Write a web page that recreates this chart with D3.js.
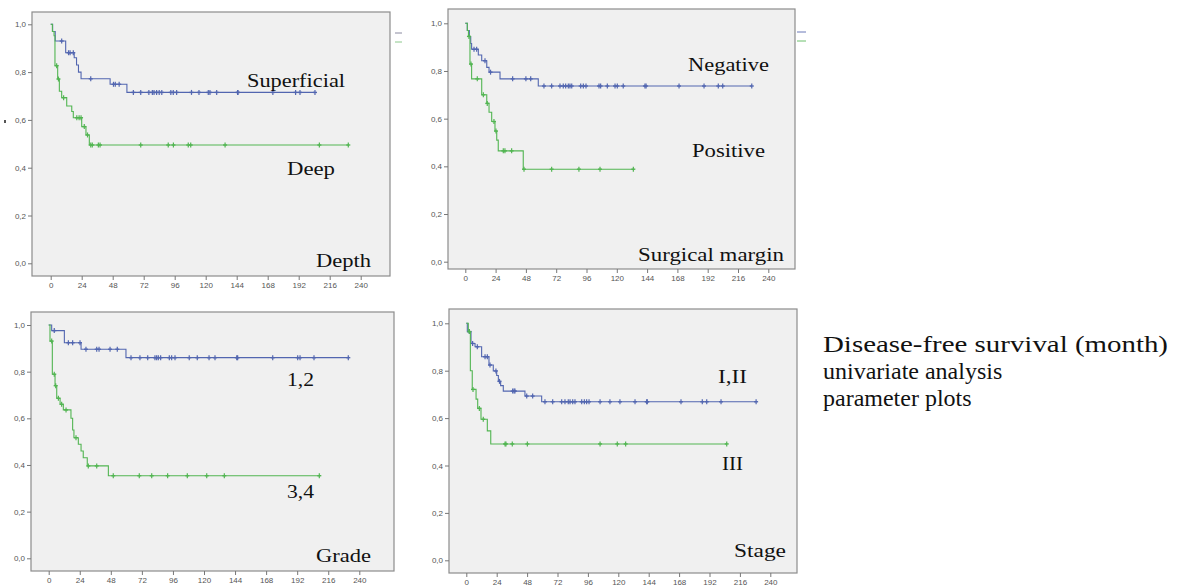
<!DOCTYPE html>
<html>
<head>
<meta charset="utf-8">
<title>Disease-free survival</title>
<script src="https://d3js.org/d3.v7.min.js"></script>
<style>
body { margin: 0; background: #fff; }
</style>
</head>
<body>
<script type="text/javascript">

var width = 1186,
    height = 586;

var xTicks = [0, 24, 48, 72, 96, 120, 144, 168, 192, 216, 240];
var yTicks = [0, 0.2, 0.4, 0.6, 0.8, 1.0];

// Depth
var supTime = [1.5, 3.5, 11.6, 18.2, 20, 21.5, 23.5, 46, 59];
var supSurv = [0.97, 0.93, 0.881, 0.86, 0.83, 0.80, 0.772, 0.749, 0.715];
var supCens = [8.5, 13.8, 15, 17.5, 31, 48.6, 50, 53, 64, 69.7, 76, 78.7, 80, 82, 84, 86, 93, 94.9, 97.5, 109, 114.8, 122, 123.3, 128.5, 144.7, 145, 172, 189.6, 193, 204.6];
var deepTime = [1.3, 2.6, 3.3, 5.4, 6.7, 8.5, 12.4, 16.3, 17.5, 24, 27.3, 29.9];
var deepSurv = [0.97, 0.952, 0.827, 0.771, 0.72, 0.693, 0.658, 0.635, 0.609, 0.572, 0.537, 0.495];
var deepCens = [4.6, 6, 10, 20.2, 22, 23.5, 26, 28.5, 31, 32.2, 36.9, 38.2, 69.7, 91, 95, 106.5, 108.4, 135, 208, 230.4];

// Surgical margin
var negTime = [1.6, 3.2, 4.3, 5, 10.3, 13, 17, 18.8, 27.5, 57.8];
var negSurv = [0.97, 0.944, 0.915, 0.891, 0.867, 0.843, 0.815, 0.795, 0.767, 0.737];
var negCens = [6.9, 9, 15.6, 20, 37.5, 48, 51.8, 62.3, 68.4, 75, 77.6, 79.5, 81.6, 82.9, 84.3, 91.4, 93.5, 95.6, 105.9, 107.2, 112.5, 118.6, 120.4, 125.1, 142.3, 143.2, 169.3, 189.1, 200.4, 203.9, 226.9];
var posTime = [1.6, 2.5, 3.7, 5, 13, 17, 18.8, 20.9, 23.5, 24.9, 26.1, 45.9];
var posSurv = [0.97, 0.945, 0.829, 0.767, 0.70, 0.664, 0.627, 0.588, 0.548, 0.51, 0.465, 0.388];
var posCens = [2.9, 4.5, 9.5, 14.3, 17.4, 22.7, 24.3, 30.1, 31.4, 36.7, 46.5, 68.4, 90, 106.7, 133.1];

// Grade
var g12Time = [2.3, 12.1, 25, 59.7];
var g12Surv = [0.976, 0.924, 0.896, 0.860];
var g12Cens = [4.3, 15.2, 18.5, 24.2, 28.8, 37.1, 38.9, 47.4, 53, 63.6, 70.5, 76.5, 82.1, 83.4, 84.7, 86.5, 93.2, 95, 97.6, 108.6, 114.8, 123.9, 128.5, 145.3, 146, 173.1, 192.4, 194.2, 205, 231.5];
var g34Time = [1.0, 2.8, 4.9, 6.2, 8.8, 11.3, 17.2, 18.5, 19.5, 22.9, 25, 26.7, 29.8, 46.1];
var g34Surv = [0.931, 0.789, 0.740, 0.686, 0.66, 0.636, 0.60, 0.55, 0.517, 0.489, 0.46, 0.431, 0.396, 0.354];
var g34Cens = [2.3, 4.3, 5.4, 7.5, 10, 13.4, 21.1, 30.6, 37.1, 49.9, 70, 79.6, 91.9, 107.1, 122.1, 135.7, 209.1];

// Stage
var st12Time = [0.8, 3.7, 6.9, 12.1, 17.9, 21.3, 24, 25.3, 27.1, 29.2, 46.3, 59.5];
var st12Surv = [0.965, 0.915, 0.901, 0.859, 0.824, 0.799, 0.78, 0.755, 0.737, 0.714, 0.693, 0.669];
var st12Cens = [2.4, 5, 8.7, 14.8, 16.6, 18.7, 23.4, 26.2, 36.6, 37.7, 38.4, 47.7, 52.4, 62.1, 68.2, 75.3, 77.9, 80.5, 81.9, 84, 85.8, 91.1, 93.2, 95, 96.9, 105.6, 113.4, 121.3, 133.2, 142.4, 142.9, 169.5, 186.3, 189.8, 201.1, 228.8];
var st3Time = [1.6, 3.2, 4.7, 7.7, 9, 11.6, 16.6, 19.3];
var st3Surv = [0.965, 0.80, 0.721, 0.68, 0.641, 0.595, 0.546, 0.491];
var st3Cens = [2.4, 5.3, 10.3, 13.4, 30.6, 31.3, 36.3, 48.2, 105.6, 119.2, 125.8, 205.6];

var caption = ["Disease-free survival (month)", "univariate analysis", "parameter plots"];

var blue = "#5266b0",
    green = "#52b552";

var panels = [
  { box: [32, 12, 390, 276], xr: [50.7, 360.7], yr: [263.3, 24.3],
    series: [[supTime, supSurv, supCens, blue], [deepTime, deepSurv, deepCens, green]],
    labels: [["Superficial", 247, 87, 98], ["Deep", 287, 175, 48], ["Depth", 316, 267, 55]] },
  { box: [448, 9, 795, 269], xr: [465.3, 768.3], yr: [261.7, 23.3],
    series: [[negTime, negSurv, negCens, blue], [posTime, posSurv, posCens, green]],
    labels: [["Negative", 688, 71, 81], ["Positive", 692, 157, 73], ["Surgical margin", 638, 261, 146]] },
  { box: [31, 312, 394, 571], xr: [48.7, 359.3], yr: [558.3, 325],
    series: [[g12Time, g12Surv, g12Cens, blue], [g34Time, g34Surv, g34Cens, green]],
    labels: [["1,2", 287, 386, 27], ["3,4", 287, 498, 27], ["Grade", 316, 562, 55]] },
  { box: [449, 309, 797, 573], xr: [466.3, 770.3], yr: [560.3, 323.3],
    series: [[st12Time, st12Surv, st12Cens, blue], [st3Time, st3Surv, st3Cens, green]],
    labels: [["I,II", 718, 383, 29], ["III", 722, 470, 21], ["Stage", 734, 557, 52]] }
];

var svg = d3.select("body").append("svg")
    .attr("width", width)
    .attr("height", height);

var fmt = function(d) { return d3.format(".1f")(d).replace(".", ","); };

function survAt(times, surv, t) {
  var s = 1;
  for (var i = 0; i < times.length; i++) { if (times[i] <= t) s = surv[i]; }
  return s;
}

panels.forEach(function(p) {
  var g = svg.append("g");
  var x = d3.scaleLinear().domain([0, 240]).range(p.xr);
  var y = d3.scaleLinear().domain([0, 1]).range(p.yr);

  g.append("rect")
    .attr("x", p.box[0]).attr("y", p.box[1])
    .attr("width", p.box[2] - p.box[0]).attr("height", p.box[3] - p.box[1])
    .style("fill", "#f0f0f0")
    .style("stroke", "#8c8c8c")
    .style("stroke-width", 1.2);

  var xAxis = d3.axisBottom(x).tickValues(xTicks).tickSize(4).tickSizeOuter(0);
  var gx = g.append("g").attr("transform", "translate(0," + p.box[3] + ")").call(xAxis);
  gx.select(".domain").remove();
  gx.selectAll("line").style("stroke", "#777");
  gx.selectAll("text").style("font-family", "Liberation Sans, Arial, sans-serif")
    .style("font-size", "8px").style("fill", "#555").attr("dy", "0.6em");

  var yAxis = d3.axisLeft(y).tickValues(yTicks).tickFormat(fmt).tickSize(4).tickPadding(2);
  var gy = g.append("g").attr("transform", "translate(" + p.box[0] + ",0)").call(yAxis);
  gy.select(".domain").remove();
  gy.selectAll("line").style("stroke", "#777");
  gy.selectAll("text").style("font-family", "Liberation Sans, Arial, sans-serif")
    .style("font-size", "8px").style("fill", "#555");

  p.series.forEach(function(s) {
    var times = s[0], surv = s[1], cens = s[2];
    var tEnd = d3.max(cens.concat(times));
    var pts = [[0, 1]];
    var prev = 1;
    times.forEach(function(t, i) { pts.push([t, prev]); pts.push([t, surv[i]]); prev = surv[i]; });
    pts.push([tEnd, prev]);

    g.append("path")
      .attr("d", d3.line().x(function(d) { return x(d[0]); }).y(function(d) { return y(d[1]); })(pts))
      .style("fill", "none")
      .style("stroke", s[3])
      .style("stroke-width", 1.1);

    // censor marks: small plus signs
    var marks = g.selectAll(null).data(cens).enter().append("g")
      .attr("transform", function(d) { return "translate(" + x(d) + "," + y(survAt(times, surv, d)) + ")"; });
    marks.append("line").attr("y1", -2.5).attr("y2", 2.5)
      .style("stroke", s[3]).style("stroke-width", 1.2);
    marks.append("line").attr("x1", -2).attr("x2", 2)
      .style("stroke", s[3]).style("stroke-width", 1.4);
  });

  p.labels.forEach(function(l) {
    g.append("text")
      .attr("x", l[1]).attr("y", l[2])
      .attr("textLength", l[3])
      .attr("lengthAdjust", "spacingAndGlyphs")
      .style("font-family", "Liberation Serif, Times New Roman, serif")
      .style("font-size", "19px")
      .style("fill", "#111")
      .text(l[0]);
  });
});

// clipped legend remnants at the right of the top plots
var bits = [[395, 33, 402, "#8a8aa0"], [395, 42, 402, "#8cc88c"], [797, 32, 806, "#6a78b8"], [797, 41, 806, "#6cc06c"]];
svg.selectAll(null).data(bits).enter().append("line")
  .attr("x1", function(d) { return d[0]; }).attr("x2", function(d) { return d[2]; })
  .attr("y1", function(d) { return d[1]; }).attr("y2", function(d) { return d[1]; })
  .style("stroke", function(d) { return d[3]; }).style("stroke-width", 1);
svg.append("rect").attr("x", 4).attr("y", 120).attr("width", 2).attr("height", 3).style("fill", "#555");

// caption
var cap = svg.selectAll(".cap").data(caption).enter().append("text")
  .attr("class", "cap")
  .attr("x", 823)
  .attr("y", function(d, i) { return 352 + i * 27; })
  .style("font-family", "Liberation Serif, Times New Roman, serif")
  .style("font-size", "24px")
  .style("fill", "#111")
  .text(function(d) { return d; });
cap.filter(function(d, i) { return i === 0; })
  .attr("textLength", 345)
  .attr("lengthAdjust", "spacingAndGlyphs");

</script>
</body>
</html>
